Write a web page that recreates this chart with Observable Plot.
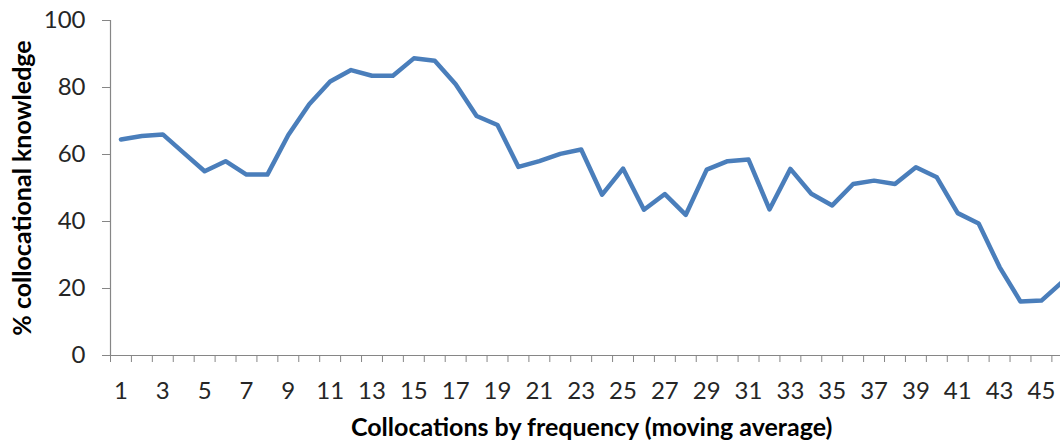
<!DOCTYPE html>
<html>
<head>
<meta charset="utf-8">
<script src="https://cdn.jsdelivr.net/npm/d3@7"></script>
<script src="https://cdn.jsdelivr.net/npm/@observablehq/plot@0.6"></script>
<style>
  html, body { margin: 0; padding: 0; background: #fff; overflow: hidden; }
</style>
</head>
<body>
<div id="chart"></div>
<script>
const categories = [1,2,3,4,5,6,7,8,9,10,11,12,13,14,15,16,17,18,19,20,21,22,23,24,25,26,27,28,29,30,31,32,33,34,35,36,37,38,39,40,41,42,43,44,45,46];
const knowledge = [64.5,65.5,66,60.5,55,58,54,54,65.8,75,81.8,85.2,83.5,83.5,88.7,88,81,71.5,68.8,56.3,58,60.2,61.5,48,55.8,43.5,48.2,42,55.5,58,58.5,43.6,55.7,48.3,44.8,51.2,52.2,51.2,56.2,53.2,42.5,39.4,26.4,16.1,16.4,22];
const xTickLabels = [1,3,5,7,9,11,13,15,17,19,21,23,25,27,29,31,33,35,37,39,41,43,45];
const yTicks = [0,20,40,60,80,100];
const xTitle = "Collocations by frequency (moving average)";
const yTitle = "% collocational knowledge";

const rows = categories.map((c, i) => ({c, v: knowledge[i]}));
const boundaries = [0, ...categories].map(c => c + 0.5);
const axisGray = "#868686";

const chart = Plot.plot({
  width: 1060,
  height: 446,
  marginLeft: 110,
  marginRight: -12.3,
  marginTop: 20,
  marginBottom: 91,
  style: {fontFamily: "Lato, 'Open Sans', sans-serif", fontSize: "24px", color: "#262626", background: "#fff"},
  x: {type: "linear", domain: [0.5, 46.5]},
  y: {domain: [0, 100]},
  marks: [
    Plot.ruleX([0.5], {y1: 0, y2: 100, stroke: axisGray, strokeWidth: 1.2}),
    Plot.ruleY([0], {stroke: axisGray, strokeWidth: 1.2}),
    Plot.axisY({ticks: yTicks, tickSize: 8, tickPadding: 17, stroke: axisGray, label: null, fontSize: 24}),
    Plot.axisX({ticks: boundaries, tickSize: 7, tickFormat: () => "", stroke: axisGray, label: null}),
    Plot.axisX({ticks: xTickLabels, tickSize: 0, tickPadding: 26, label: null, fontSize: 24}),
    Plot.line(rows, {x: "c", y: "v", stroke: "#4A7EBB", strokeWidth: 4.5, strokeLinejoin: "round", strokeLinecap: "round"}),
    Plot.text([yTitle], {frameAnchor: "left", dx: -88, rotate: -90, textAnchor: "middle", lineAnchor: "middle", fontWeight: "bold", fontSize: 25, fill: "#000"}),
    Plot.text([xTitle], {frameAnchor: "bottom", dy: 72, textAnchor: "middle", lineAnchor: "middle", fontWeight: "bold", fontSize: 25, fill: "#000"})
  ]
});
document.getElementById("chart").appendChild(chart);
</script>
</body>
</html>
